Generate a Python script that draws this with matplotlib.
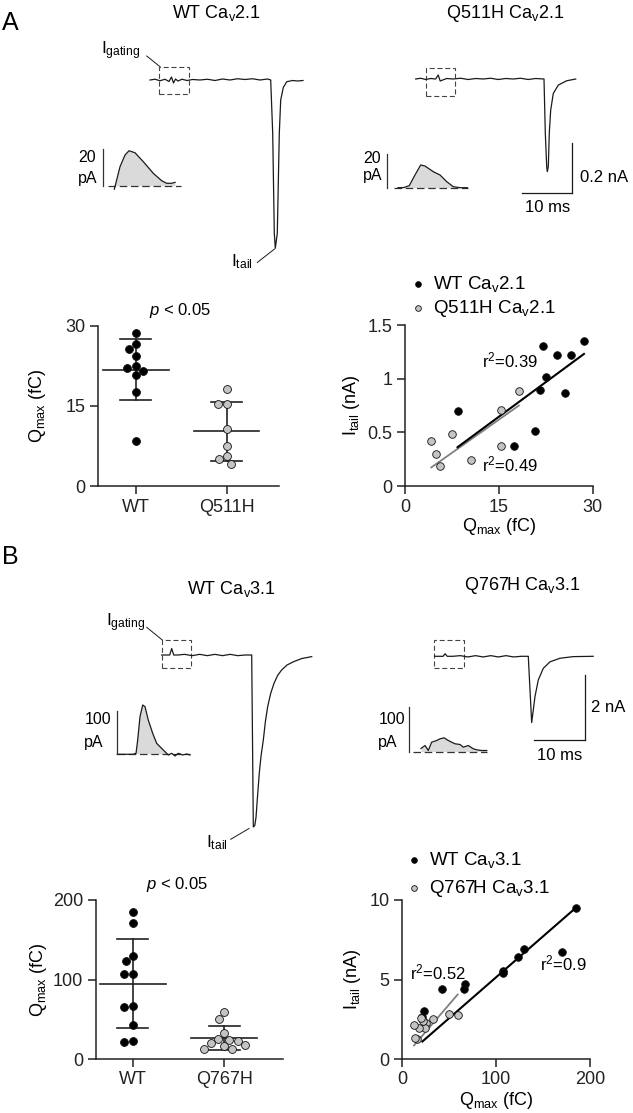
import numpy as np
import matplotlib
matplotlib.use("Agg")
import matplotlib.pyplot as plt
from matplotlib.patches import Rectangle
from matplotlib.lines import Line2D

plt.rcParams['font.family'] = ['Liberation Sans', 'DejaVu Sans']
plt.rcParams['mathtext.fontset'] = 'custom'
plt.rcParams['mathtext.rm'] = 'Liberation Sans'
plt.rcParams['mathtext.it'] = 'Liberation Sans:italic'
plt.rcParams['mathtext.bf'] = 'Liberation Sans:bold'
plt.rcParams['font.size'] = 13

# ---------------- values ----------------
# A: Cav2.1, gating charge Qmax (fC) and tail current (nA), one entry per cell
wt21_qmax = [28.6, 26.6, 25.6, 24.3, 22.5, 22.1, 21.6, 20.8, 17.5, 8.4]
wt21_itail = [1.354, 1.224, 0.863, 1.217, 1.012, 1.307, 0.894, 0.512, 0.370, 0.696]
q511h_qmax = [18.2, 15.4, 15.3, 10.6, 7.5, 5.6, 5.0, 4.2]
q511h_itail = [0.882, 0.370, 0.708, 0.242, 0.484, 0.186, 0.295, 0.419]

# B: Cav3.1
wt31_qmax = [185.5, 170.5, 130.0, 123.5, 107.3, 107.0, 66.4, 65.9, 42.3, 23.1, 21.4]
wt31_itail = [9.48, 6.73, 6.92, 6.44, 5.56, 5.42, 4.72, 4.38, 4.40, 3.04, 2.65]
q767h_qmax = [59.0, 50.0, 33.0, 25.3, 24.2, 22.4, 19.9, 17.8, 15.9, 13.1, 12.4]
q767h_itail = [2.75, 2.80, 2.52, 2.28, 1.95, 2.40, 2.56, 1.93, 1.26, 1.34, 2.16]

groups_a = ['WT', 'Q511H']
groups_b = ['WT', 'Q767H']
r2_a = ['0.39', '0.49']   # WT, mutant
r2_b = ['0.9', '0.52']

# example traces (ms, nA)
wt21_t = [0, 1.0, 2.0, 3.0, 3.8, 4.3, 4.7, 5.1, 5.6, 6.4, 7.4, 8.5, 10.0, 11.5, 13.0, 14.5, 16.0,
          17.5, 19.0, 20.5, 22.0, 23.5, 24.14, 24.54, 24.86, 25.06, 25.46, 25.86, 26.14, 26.66,
          27.34, 28.5, 29.5, 30.6]
wt21_i = [0, 0.003, -0.003, 0.003, -0.006, 0.012, -0.012, 0.004, -0.004, 0.003, -0.002, 0.002, 0.0,
          0.003, -0.002, 0.004, 0.0, 0.005, 0.002, 0.005, 0.0, 0.004, 0.0, -0.213, -0.613, -0.673,
          -0.613, -0.213, -0.08, -0.03, -0.007, -0.002, -0.004, -0.002]
q511h_t = [0, 1.0, 2.0, 3.0, 4.0, 4.5, 4.9, 5.4, 6.2, 7.5, 9, 10.5, 12, 13.5, 15, 16.5, 18, 19.5, 21,
           22.5, 24, 25.66, 25.92, 26.2, 26.32, 26.52, 26.72, 27.0, 27.52, 28.52, 30.2, 32.0]
q511h_i = [0, 0.003, -0.002, 0.002, 0.0, 0.016, -0.008, -0.004, 0.002, 0.0, 0.003, -0.002, 0.002,
           0.0, 0.003, -0.002, 0.002, 0.0, 0.003, -0.002, 0.002, 0.0, -0.213, -0.347, -0.366,
           -0.347, -0.213, -0.123, -0.057, -0.024, -0.007, 0.0]
wt31_t = [0, 0.8, 1.58, 1.97, 2.37, 3.2, 4.5, 6, 7.5, 9, 10.5, 12, 13.5, 15, 16.5, 17.75, 17.91,
          18.07, 18.35, 18.6, 18.9, 19.25, 19.6, 20.04, 20.45, 20.9, 21.5, 22.15, 22.9, 23.67, 24.7,
          25.96, 27.6, 29.59]
wt31_i = [0, 0.0, 0.0, 0.2, 0.0, 0.0, 0.02, -0.02, 0.02, -0.02, 0.02, -0.02, 0.02, -0.02, 0.0, 0.0,
          -2.6, -5.29, -5.25, -5.0, -4.35, -3.63, -3.1, -2.62, -2.05, -1.59, -1.18, -0.87, -0.62,
          -0.46, -0.31, -0.21, -0.11, -0.05]
q767h_t = [0, 1.0, 1.6, 2.0, 2.4, 3.5, 5, 6.5, 8, 9.5, 11, 12.5, 14, 15.5, 17, 18.4, 18.74, 19.07,
           19.39, 19.72, 20.37, 21.36, 22.68, 24.65, 27.28, 31.2]
q767h_i = [0, 0.0, 0.0, 0.08, 0.0, 0.0, 0.02, -0.02, 0.02, -0.02, 0.02, -0.02, 0.02, -0.02, 0.0,
           0.0, -1.04, -2.04, -1.65, -1.24, -0.73, -0.37, -0.17, -0.06, -0.01, 0.0]

# gating current insets (ms, pA)
g_wt21_t = [0.52, 0.99, 1.40, 1.73, 2.22, 2.90, 3.72, 4.41, 4.82, 5.23, 5.51]
g_wt21_i = [-1.9, 10.3, 16.6, 18.9, 17.8, 13.0, 6.7, 2.7, 1.3, 1.3, 1.8]
g_q511h_t = [0.3, 0.74, 1.23, 1.70, 2.17, 2.52, 3.20, 3.76, 4.31, 4.85, 5.40, 6.0]
g_q511h_i = [0, 0, 1.2, 7.6, 13.6, 13.0, 9.6, 7.6, 3.6, 0.6, 0, 0]
g_wt31_t = [0, 1.31, 1.56, 1.70, 1.89, 2.12, 2.31, 2.58, 2.95, 3.28, 3.83, 4.25, 4.53, 4.81, 5.08,
            5.45, 5.78, 6.06]
g_wt31_i = [0, 0, 2.3, 33, 86.8, 113.9, 110, 79.2, 48.5, 25.4, 9.9, -1.6, 2.3, -3.9, 2.3, -1.6, 0.7, -1.6]
g_q767h_t = [0.64, 0.98, 1.25, 1.53, 1.95, 2.23, 2.56, 2.92, 3.2, 3.48, 3.89, 4.17, 4.58, 5.0, 5.28,
             5.7, 6.12]
g_q767h_i = [6.7, 13.3, 2.2, 20.7, 24.4, 28.2, 30.4, 24.4, 20.7, 17.1, 15.6, 9.6, 13.3, 6.0, 3.8, 2.2, 2.2]

# ---------------- layout helpers (pixel based) ----------------
W, H = 633, 1113
fig = plt.figure(figsize=(W / 100, H / 100), dpi=100)

TRACE = '#1a1a1a'
GREY = '#c4c4c4'
FILL = '#dadada'


def fx(x):
    return x / W


def fy(y):
    return 1 - y / H


def box_axes(left, top, right, bottom):
    return fig.add_axes([fx(left), fy(bottom), (right - left) / W, (bottom - top) / H])


def scaled_axes(box, x0, y0, sx, sy):
    left, top, right, bottom = box
    ax = box_axes(left, top, right, bottom)
    ax.set_xlim((left - x0) / sx, (right - x0) / sx)
    ax.set_ylim((y0 - bottom) / sy, (y0 - top) / sy)
    ax.axis('off')
    return ax


def ftext(x, y, s, **kw):
    fig.text(fx(x), fy(y), s, **kw)


def fline(x1, y1, x2, y2):
    fig.add_artist(Line2D([fx(x1), fx(x2)], [fy(y1), fy(y2)], transform=fig.transFigure,
                          color=TRACE, lw=0.7))


def style(ax):
    for s in ('top', 'right'):
        ax.spines[s].set_visible(False)
    for s in ('left', 'bottom'):
        ax.spines[s].set_linewidth(1.1)
        ax.spines[s].set_color('#222222')
    ax.tick_params(direction='out', length=6, width=1.1, labelsize=13, pad=3, colors='#222222')


def swarm(vals, ppu_y, ppu_x, d=8.6):
    vals = np.asarray(vals, float)
    placed = []
    offs = np.zeros(len(vals))
    for k in np.argsort(-vals, kind='stable'):
        y = vals[k] * ppu_y
        cands = [0.0]
        for px, py in placed:
            dy = abs(py - y)
            if dy < d:
                dx = np.sqrt(d * d - dy * dy)
                cands += [px - dx, px + dx]
        cands.sort(key=lambda c: (abs(c), c))
        for c in cands:
            if all((c - px) ** 2 + (y - py) ** 2 >= d * d - 1e-6 for px, py in placed):
                break
        placed.append((c, y))
        offs[k] = c / ppu_x
    return offs


def dot_panel(ax, data, names, ppu_y, ppu_x):
    for k, (vals, fc) in enumerate(zip(data, ['black', GREY])):
        vals = np.asarray(vals, float)
        ax.scatter(k + swarm(vals, ppu_y, ppu_x), vals, s=32, facecolor=fc, edgecolor='#111111',
                   lw=0.6, zorder=3, clip_on=False)
        m, sd = vals.mean(), vals.std(ddof=1)
        ax.plot([k - 0.36, k + 0.36], [m, m], color='#222222', lw=1.2, zorder=2)
        ax.plot([k, k], [m - sd, m + sd], color='#222222', lw=1.2, zorder=2)
        for e in (m - sd, m + sd):
            ax.plot([k - 0.17, k + 0.17], [e, e], color='#222222', lw=1.2, zorder=2)
    ax.set_xticks(range(len(names)))
    ax.set_xticklabels(names)
    style(ax)


def scatter_panel(ax, xs_list, ys_list):
    # mutant fit first so the WT line sits on top
    for xs, ys, col, lw in ((xs_list[1], ys_list[1], '#808080', 1.3),
                            (xs_list[0], ys_list[0], 'black', 1.5)):
        x = np.asarray(xs, float)
        y = np.asarray(ys, float)
        slope = (x * y).sum() / (x * x).sum()   # fit through origin
        xe = np.array([x.min(), x.max()])
        ax.plot(xe, slope * xe, color=col, lw=lw, zorder=2)
    handles = []
    for xs, ys, fc in zip(xs_list, ys_list, ['black', GREY]):
        handles.append(ax.scatter(xs, ys, s=30, facecolor=fc, edgecolor='#111111', lw=0.6,
                                  zorder=3, clip_on=False))
    style(ax)
    return handles


def trace(ax, t, i):
    ax.plot(t, i, color=TRACE, lw=0.9, solid_joinstyle='round')


def inset(ax, t, i, base_end, bar_x, bar_len):
    t = np.asarray(t, float)
    i = np.asarray(i, float)
    ax.fill_between(t, i, 0, where=i > 0, interpolate=True, color=FILL, lw=0)
    ax.plot([0, base_end], [0, 0], color='#333333', lw=0.9, ls=(0, (6, 3)))
    ax.plot(t, i, color=TRACE, lw=0.9)
    ax.plot([bar_x, bar_x], [0, bar_len], color='#333333', lw=0.9)


def dash_box(ax, t0, t1, i0, i1):
    ax.add_patch(Rectangle((t0, i0), t1 - t0, i1 - i0, fill=False, ec='#444444', lw=0.8,
                           ls=(0, (4.5, 2.5))))


# ---------------- panel letters and titles ----------------
ftext(10.5, 23, 'A', fontsize=18, ha='center', va='center')
ftext(10.5, 557, 'B', fontsize=18, ha='center', va='center')
ftext(216.7, 13, r'WT Ca$_{\rm v}$2.1', ha='center', va='center', fontsize=13)
ftext(505, 13, r'Q511H Ca$_{\rm v}$2.1', ha='center', va='center', fontsize=13)
ftext(231.7, 589, r'WT Ca$_{\rm v}$3.1', ha='center', va='center', fontsize=13)
ftext(522, 586, r'Q767H Ca$_{\rm v}$3.1', ha='center', va='center', fontsize=13)

# ---------------- A traces ----------------
ax = scaled_axes((140, 55, 320, 270), 150, 80, 5.0, 250)
trace(ax, wt21_t, wt21_i)
dash_box(ax, 1.86, 7.86, -0.057, 0.053)
ftext(101, 51, r'I$_{\rm gating}$', fontsize=12.5, ha='left', va='center')
fline(146.7, 56, 160, 66.7)
ftext(231, 262, r'I$_{\rm tail}$', fontsize=12.5, ha='left', va='center')
fline(257.3, 262.5, 274.5, 249)

ax = scaled_axes((405, 55, 630, 220), 415.7, 79, 5.0, 253)
trace(ax, q511h_t, q511h_i)
dash_box(ax, 2.0, 7.86, -0.066, 0.042)
ax.plot([31.3, 31.3], [-0.252, -0.452], color=TRACE, lw=0.9)
ax.plot([21.3, 31.3], [-0.452, -0.452], color=TRACE, lw=0.9)
ftext(580, 177, '0.2 nA', fontsize=12, ha='left', va='center')
ftext(547.7, 208, '10 ms', fontsize=12, ha='center', va='center')

ax = scaled_axes((95, 140, 190, 195), 108, 185.7, 12.17, 1.85)
inset(ax, g_wt21_t, g_wt21_i, 5.97, -0.39, 20)
ftext(78.3, 157, '20', fontsize=11.5, ha='left', va='center')
ftext(78.3, 178, 'pA', fontsize=11.5, ha='left', va='center')

ax = scaled_axes((380, 150, 475, 195), 394.3, 187.7, 12.17, 1.67)
inset(ax, g_q511h_t, g_q511h_i, 6.08, -0.62, 20)
ftext(363.3, 158.5, '20', fontsize=11.5, ha='left', va='center')
ftext(363.3, 175.5, 'pA', fontsize=11.5, ha='left', va='center')

# ---------------- A plots ----------------
ax = box_axes(97.7, 325.7, 279.3, 486)
ax.set_xlim(-0.42, 1.58)
ax.set_ylim(0, 30)
dot_panel(ax, [wt21_qmax, q511h_qmax], groups_a, 160.3 / 30, 90.7)
ax.set_yticks([0, 15, 30])
ax.set_ylabel(r'Q$_{\rm max}$ (fC)', fontsize=13)
ax.yaxis.set_label_coords((48 - 97.7) / 181.6, 0.5)
ftext(180, 310, r'$p$ < 0.05', fontsize=12, ha='center', va='center')

ax = box_axes(405, 325, 592.7, 486)
ax.set_xlim(0, 30)
ax.set_ylim(0, 1.5)
h = scatter_panel(ax, [wt21_qmax, q511h_qmax], [wt21_itail, q511h_itail])
ax.set_xticks([0, 15, 30])
ax.set_yticks([0, 0.5, 1, 1.5])
ax.set_yticklabels(['0', '0.5', '1', '1.5'])
ax.set_ylabel(r'I$_{\rm tail}$ (nA)', fontsize=13)
ax.yaxis.set_label_coords((362 - 405) / 187.7, 0.5)
ax.set_xlabel(r'Q$_{\rm max}$ (fC)', fontsize=13)
ax.xaxis.set_label_coords(0.5, (486 - 516) / 161)
ax.text(16.8, 1.17, r'r$^2$=' + r2_a[0], fontsize=12, ha='center', va='center')
ax.text(16.8, 0.205, r'r$^2$=' + r2_a[1], fontsize=12, ha='center', va='center')
ax.legend(h, [r'WT Ca$_{\rm v}$2.1', r'Q511H Ca$_{\rm v}$2.1'], loc='lower left',
          bbox_to_anchor=(0.018, 1.035), frameon=False, borderpad=0, borderaxespad=0,
          handlelength=1.0, handletextpad=0.3, labelspacing=0.25, markerscale=0.75, fontsize=13.5)

# ---------------- B traces ----------------
ax = scaled_axes((150, 630, 320, 840), 161.7, 655, 5.07, 32.5)
trace(ax, wt31_t, wt31_i)
dash_box(ax, 0.0, 5.72, -0.39, 0.46)
ftext(105.5, 623, r'I$_{\rm gating}$', fontsize=12.5, ha='left', va='center')
fline(146.7, 627.3, 162.3, 640)
ftext(206, 843, r'I$_{\rm tail}$', fontsize=12.5, ha='left', va='center')
fline(230.7, 839.3, 249, 828.5)

ax = scaled_axes((425, 630, 600, 760), 435, 656.3, 5.07, 32.5)
trace(ax, q767h_t, q767h_i)
dash_box(ax, -0.14, 5.72, -0.35, 0.50)
ax.plot([29.6, 29.6], [-0.575, -2.575], color=TRACE, lw=0.9)
ax.plot([19.6, 29.6], [-2.575, -2.575], color=TRACE, lw=0.9)
ftext(591, 708, '2 nA', fontsize=12, ha='left', va='center')
ftext(560, 755, '10 ms', fontsize=12, ha='center', va='center')

ax = scaled_axes((110, 695, 195, 765), 117.3, 754.3, 12.0, 0.433)
inset(ax, g_wt31_t, g_wt31_i, 6.06, 0.0, 100)
ftext(84.3, 720, '100', fontsize=11.5, ha='left', va='center')
ftext(84.3, 742, 'pA', fontsize=11.5, ha='left', va='center')

ax = scaled_axes((400, 700, 495, 760), 413.3, 751.5, 12.0, 0.45)
inset(ax, g_q767h_t, g_q767h_i, 6.12, -0.33, 100)
ftext(378.3, 720, '100', fontsize=11.5, ha='left', va='center')
ftext(378.3, 742, 'pA', fontsize=11.5, ha='left', va='center')

# ---------------- B plots ----------------
ax = box_axes(95.7, 900, 282.7, 1059)
ax.set_xlim(-0.405, 1.64)
ax.set_ylim(0, 200)
dot_panel(ax, [wt31_qmax, q767h_qmax], groups_b, 159 / 200, 91.3)
ax.set_yticks([0, 100, 200])
ax.set_ylabel(r'Q$_{\rm max}$ (fC)', fontsize=13)
ax.yaxis.set_label_coords((49 - 95.7) / 187, 0.5)
ftext(176.7, 885, r'$p$ < 0.05', fontsize=12, ha='center', va='center')

ax = box_axes(402.3, 900, 590, 1059)
ax.set_xlim(0, 200)
ax.set_ylim(0, 10)
h = scatter_panel(ax, [wt31_qmax, q767h_qmax], [wt31_itail, q767h_itail])
ax.set_xticks([0, 100, 200])
ax.set_yticks([0, 5, 10])
ax.set_ylabel(r'I$_{\rm tail}$ (nA)', fontsize=13)
ax.yaxis.set_label_coords((363 - 402.3) / 187.7, 0.5)
ax.set_xlabel(r'Q$_{\rm max}$ (fC)', fontsize=13)
ax.xaxis.set_label_coords(0.5, (1059 - 1090) / 159)
ax.text(171.3, 6.04, r'r$^2$=' + r2_b[0], fontsize=12, ha='center', va='center')
ax.text(38, 5.47, r'r$^2$=' + r2_b[1], fontsize=12, ha='center', va='center')
ax.legend(h, [r'WT Ca$_{\rm v}$3.1', r'Q767H Ca$_{\rm v}$3.1'], loc='lower left',
          bbox_to_anchor=(0.01, 1.005), frameon=False, borderpad=0, borderaxespad=0,
          handlelength=1.0, handletextpad=0.3, labelspacing=0.45, markerscale=0.75, fontsize=13.5)

fig.savefig('out.png', dpi=100)
